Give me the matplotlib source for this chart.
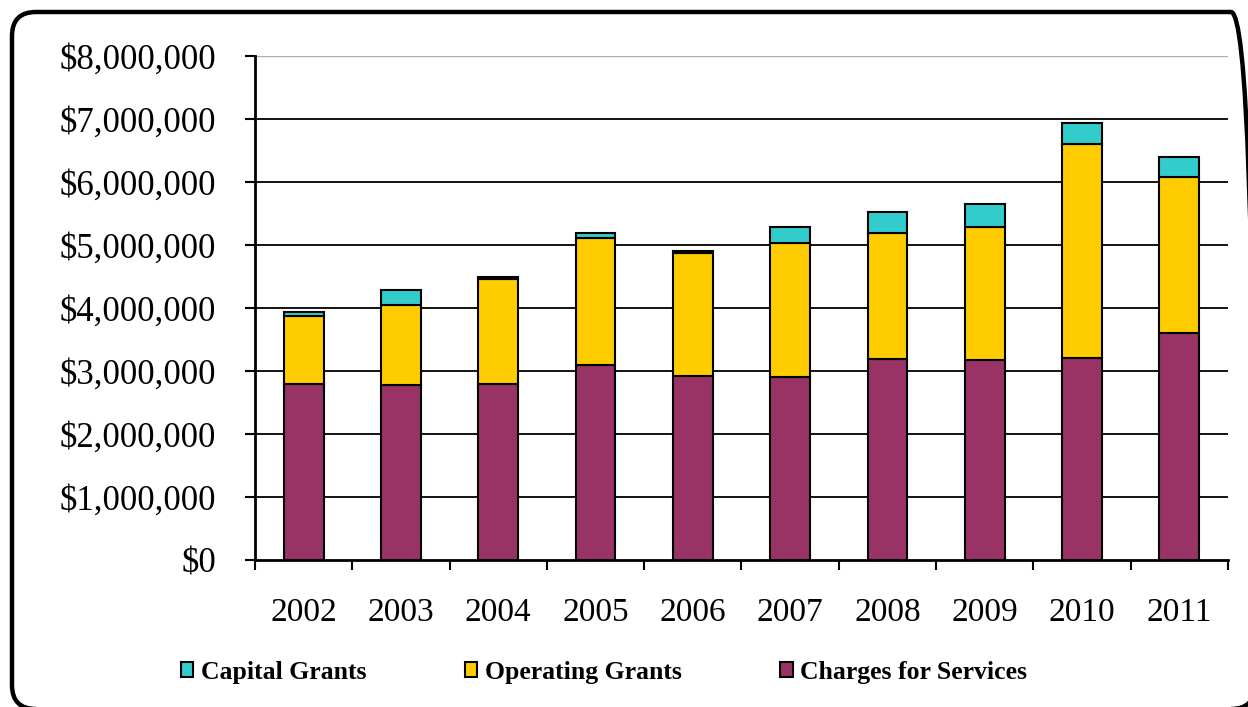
import matplotlib.pyplot as plt
from matplotlib.patches import FancyBboxPatch, Patch
import numpy as np

# dati (dollari)
anni = ['2002', '2003', '2004', '2005', '2006', '2007', '2008', '2009', '2010', '2011']
charges = [2790000, 2770000, 2790000, 3100000, 2920000, 2900000, 3190000, 3180000, 3200000, 3610000]
operating = [1080000, 1280000, 1670000, 2010000, 1950000, 2130000, 2000000, 2110000, 3400000, 2470000]
capital = [70000, 240000, 30000, 80000, 30000, 250000, 330000, 360000, 340000, 320000]

y_ticks = [0, 1000000, 2000000, 3000000, 4000000, 5000000, 6000000, 7000000, 8000000]
y_labels = ['$0', '$1,000,000', '$2,000,000', '$3,000,000', '$4,000,000',
            '$5,000,000', '$6,000,000', '$7,000,000', '$8,000,000']

col_charges = '#993366'
col_operating = '#FFCC00'
col_capital = '#33CCCC'

plt.rcParams['font.family'] = ['Liberation Serif', 'DejaVu Serif']

fig = plt.figure(figsize=(12.48, 7.07), dpi=100)
ax = fig.add_axes([0.2043, 0.2079, 0.7797, 0.7129])

x = np.arange(len(anni))
w = 0.41
base2 = np.array(charges)
base3 = base2 + np.array(operating)

ax.bar(x, charges, w, color=col_charges, edgecolor='black', linewidth=1.5, zorder=3)
ax.bar(x, operating, w, bottom=base2, color=col_operating, edgecolor='black', linewidth=1.5, zorder=3)
ax.bar(x, capital, w, bottom=base3, color=col_capital, edgecolor='black', linewidth=1.5, zorder=3)

ax.set_xlim(-0.5, len(anni) - 0.5)
ax.set_ylim(0, 8000000)

# assi
for s in ['top', 'right']:
    ax.spines[s].set_visible(False)
ax.spines['left'].set_linewidth(2)
ax.spines['bottom'].set_linewidth(2)
ax.spines['left'].set_zorder(4)
ax.spines['bottom'].set_zorder(4)

ax.set_yticks(y_ticks)
ax.set_yticklabels(y_labels, fontsize=25)
ax.tick_params(axis='y', direction='out', length=7, width=1.5, pad=21)

ax.set_xticks(x)
ax.set_xticklabels(anni, fontsize=24)
ax.tick_params(axis='x', which='major', length=0, pad=27)
ax.set_xticks(np.arange(-0.5, len(anni)), minor=True)
ax.tick_params(axis='x', which='minor', direction='out', length=7, width=1.5)

ax.yaxis.grid(True, color='black', linewidth=1.3, zorder=0)
ax.set_axisbelow(True)
gl = ax.yaxis.get_gridlines()
gl[0].set_visible(False)
gl[-1].set_color('#b0b0b0')
gl[-1].set_linewidth(1.0)

# legenda
handles = [Patch(facecolor=col_capital, edgecolor='black', linewidth=1.5),
           Patch(facecolor=col_operating, edgecolor='black', linewidth=1.5),
           Patch(facecolor=col_charges, edgecolor='black', linewidth=1.5)]
fig.legend(handles, ['Capital Grants', 'Operating Grants', 'Charges for Services'],
           loc='center', bbox_to_anchor=(0.484, 0.0495), ncol=3, frameon=False,
           prop={'weight': 'bold', 'size': 18.5}, handlelength=0.5, handleheight=0.5,
           handletextpad=0.3, columnspacing=3.81, borderpad=0)

# cornice arrotondata
bordo = FancyBboxPatch((0.12, -0.02), 12.43, 6.97, boxstyle='round,pad=0,rounding_size=0.24',
                       transform=fig.dpi_scale_trans, facecolor='none', edgecolor='black',
                       linewidth=3.2, clip_on=False)
fig.patches.append(bordo)

fig.savefig('out.png', dpi=100)
